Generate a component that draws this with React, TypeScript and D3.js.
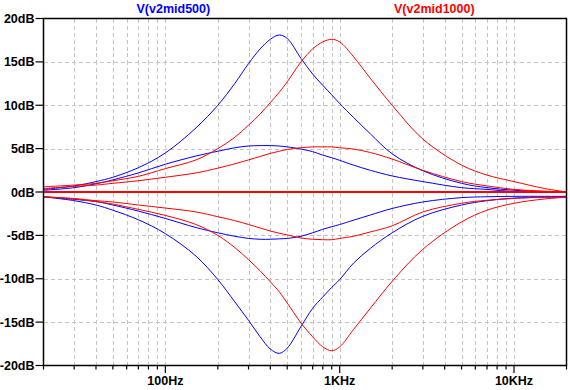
import * as d3 from "d3";

const freqs = [20, 30, 40, 50, 70, 100, 150, 200, 250, 300, 350, 400, 450, 500, 600, 700, 800, 900, 1000, 1200, 1500, 2000, 3000, 5000, 7000, 10000, 15000, 20000];

// V(v2mid500) traces, dB
const blueBoostBig = [0.3, 0.7, 1.2, 1.7, 2.8, 4.5, 7.4, 10.0, 12.5, 14.8, 16.5, 17.6, 18.1, 17.7, 15.4, 13.6, 12.3, 11.2, 10.2, 8.6, 6.7, 4.4, 2.45, 1.0, 0.5, 0.2, 0.05, 0];
const blueBoostMid = [0.2, 0.5, 0.95, 1.4, 2.2, 3.2, 4.15, 4.7, 5.1, 5.3, 5.35, 5.35, 5.3, 5.2, 4.95, 4.65, 4.25, 3.95, 3.65, 3.1, 2.5, 1.85, 1.2, 0.5, 0.3, 0.05, 0, 0];
const blueFlat = [0, 0, 0, 0, 0, 0, 0, 0, 0, 0, 0, 0, 0, 0, 0, 0, 0, 0, 0, 0, 0, 0, 0, 0, 0, 0, 0, 0];
const blueCutMid = [-0.55, -0.85, -1.1, -1.5, -2.2, -3.05, -4.1, -4.7, -5.1, -5.35, -5.45, -5.45, -5.4, -5.35, -5.1, -4.7, -4.3, -4.0, -3.75, -3.25, -2.65, -1.9, -1.15, -0.65, -0.55, -0.5, -0.5, -0.5];
const blueCutBig = [-0.55, -1.0, -1.5, -2.1, -3.2, -4.8, -7.4, -10.1, -12.65, -14.8, -16.7, -18.1, -18.6, -18.0, -15.5, -13.4, -12.1, -11.0, -10.1, -8.2, -6.5, -4.7, -2.8, -1.5, -1.0, -0.7, -0.6, -0.55];

// V(v2mid1000) traces, dB
const redBoostBig = [0.6, 0.8, 1.0, 1.3, 1.8, 2.7, 3.7, 5.0, 6.3, 7.7, 9.0, 10.3, 11.5, 12.7, 15.0, 16.5, 17.3, 17.6, 17.3, 15.6, 13.1, 10.0, 6.1, 3.1, 1.95, 1.2, 0.4, 0];
const redBoostMid = [0.4, 0.65, 0.8, 1.0, 1.3, 1.7, 2.2, 2.75, 3.25, 3.7, 4.1, 4.45, 4.7, 4.9, 5.1, 5.2, 5.2, 5.2, 5.1, 4.95, 4.55, 3.8, 2.5, 1.2, 0.7, 0.3, 0.1, 0];
const redFlat = [0, 0, 0, 0, 0, 0, 0, 0, 0, 0, 0, 0, 0, 0, 0, 0, 0, 0, 0, 0, 0, 0, 0, 0, 0, 0, 0, 0];
const redCutMid = [-0.55, -0.75, -1.0, -1.15, -1.5, -1.85, -2.3, -2.85, -3.3, -3.75, -4.15, -4.5, -4.75, -4.95, -5.3, -5.45, -5.5, -5.5, -5.35, -5.1, -4.6, -3.9, -2.3, -1.3, -0.95, -0.75, -0.6, -0.6];
const redCutBig = [-0.55, -0.8, -1.1, -1.4, -2.0, -2.7, -3.75, -5.0, -6.4, -7.8, -9.1, -10.35, -11.5, -12.8, -15.1, -16.7, -17.85, -18.3, -17.85, -15.85, -13.4, -10.3, -6.6, -3.45, -2.1, -1.3, -0.8, -0.6];

const yTicks = [-20, -15, -10, -5, 0, 5, 10, 15, 20];
const yTickLabels = ["-20dB", "-15dB", "-10dB", "-5dB", "0dB", "5dB", "10dB", "15dB", "20dB"];
const xMajor = [100, 1000, 10000];
const xMajorLabels = ["100Hz", "1KHz", "10KHz"];
const xMinor = [20, 30, 40, 50, 60, 70, 80, 90, 200, 300, 400, 500, 600, 700, 800, 900, 2000, 3000, 4000, 5000, 6000, 7000, 8000, 9000, 20000];

const blueSeries = [blueBoostBig, blueBoostMid, blueCutMid, blueCutBig];
const redSeries = [redBoostBig, redBoostMid, redCutMid, redCutBig];

export default function App() {
	const width = 570;
	const height = 390;
	const left = 43.5;
	const right = 566.5;
	const top = 18.5;
	const bottom = 365.5;

	const x = d3.scaleLog().domain([20, 20000]).range([left, right]);
	const y = d3.scaleLinear().domain([-20, 20]).range([bottom, top]);

	const line = d3
		.line<number>()
		.x((_, i) => x(freqs[i]))
		.y((d) => y(d))
		.curve(d3.curveCatmullRom.alpha(0.5));

	const font = "'Liberation Sans', Arial, sans-serif";
	const gridX = [...xMinor, ...xMajor].filter((f) => f > 20 && f < 20000);

	return (
		<svg
			width={width}
			height={height}
			style={{ position: "absolute", left: 0, top: 0, background: "#fff" }}
			fontFamily={font}
		>
			<rect x={0} y={0} width={width} height={height} fill="#fff" />
			<g stroke="#c4c4c4" strokeWidth={1} strokeDasharray="4,3" shapeRendering="crispEdges">
				{gridX.map((f) => (
					<line key={f} x1={Math.round(x(f)) + 0.5} x2={Math.round(x(f)) + 0.5} y1={top} y2={bottom} />
				))}
				{yTicks.slice(1, -1).map((v) => (
					<line key={v} x1={left} x2={right} y1={Math.round(y(v)) + 0.5} y2={Math.round(y(v)) + 0.5} />
				))}
			</g>
			<g fill="none" strokeWidth={1}>
				{blueSeries.map((s, i) => (
					<path key={"b" + i} d={line(s) ?? ""} stroke="#0000ff" />
				))}
				<path d={line(blueFlat) ?? ""} stroke="#0000ff" strokeWidth={2} shapeRendering="crispEdges" />
				{redSeries.map((s, i) => (
					<path key={"r" + i} d={line(s) ?? ""} stroke="#ff0000" />
				))}
				<path d={line(redFlat) ?? ""} stroke="#ff0000" strokeWidth={2} shapeRendering="crispEdges" />
			</g>
			<rect
				x={left}
				y={top}
				width={right - left}
				height={bottom - top}
				fill="none"
				stroke="#000"
				strokeWidth={1.5}
			/>
			<g stroke="#000" strokeWidth={1.2}>
				{yTicks.map((v) => (
					<line key={v} x1={left - 8} x2={left} y1={y(v)} y2={y(v)} />
				))}
				{xMinor.map((f) => (
					<line key={f} x1={x(f)} x2={x(f)} y1={bottom} y2={bottom + 4} />
				))}
				{xMajor.map((f) => (
					<line key={f} x1={x(f)} x2={x(f)} y1={bottom} y2={bottom + 7.5} />
				))}
			</g>
			<g fontSize={12.5} fontWeight="bold" fill="#000">
				{yTicks.map((v, i) => (
					<text key={v} x={left - 9} y={y(v) + 4.5} textAnchor="end">
						{yTickLabels[i]}
					</text>
				))}
				{xMajor.map((f, i) => (
					<text key={f} x={x(f)} y={385} textAnchor="middle">
						{xMajorLabels[i]}
					</text>
				))}
			</g>
			<g fontSize={12.5} fontWeight="bold">
				<text x={136.5} y={12.5} fill="#0000ff">V(v2mid500)</text>
				<text x={394} y={12.5} fill="#ff0000">V(v2mid1000)</text>
			</g>
		</svg>
	);
}
